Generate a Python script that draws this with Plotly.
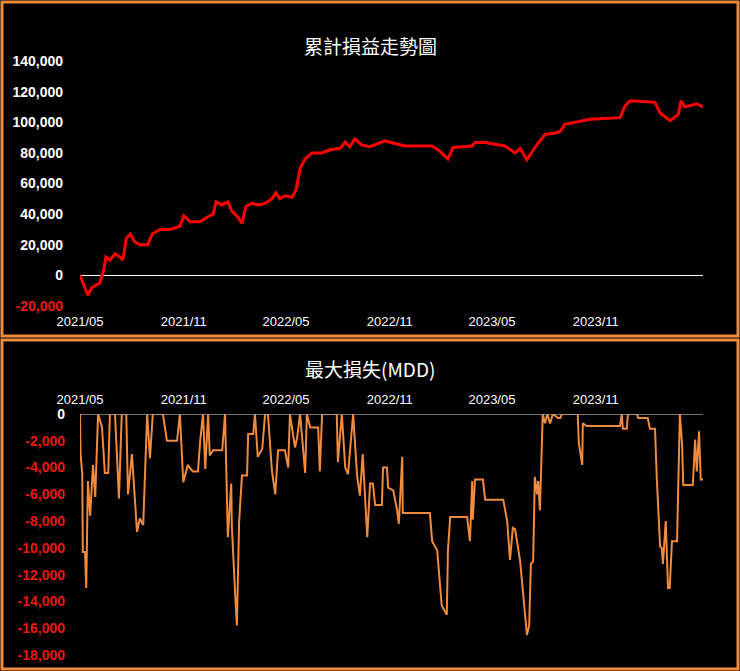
import plotly.graph_objects as go
import pandas as pd

START = "2021-05-01"
pnl_days = [0,9,14,21,30,35,41,46,53,62,71,76,82,89,97,106,120,128,142,159,
            177,184,195,213,225,236,241,252,262,269,280,287,294,305,315,328,340,347,354,363,
            376,383,390,399,411,429,443,461,470,478,487,500,514,540,576,624,638,652,661,695,
            700,718,753,771,780,792,806,824,842,851,859,877,904,957,966,975,1019,1028,1041,1046,
            1060,1065,1072,1093,1104]
pnl_vals = [0,-8000,-13000,-8000,-6000,-5000,2000,12000,10000,14000,
            12000,10000,24000,27000,22000,20000,20000,27000,30000,30000,
            32000,39000,35000,35000,38000,40000,48000,46000,48000,42000,
            38000,34000,45000,47000,46000,47000,50000,54000,50000,52000,
            51000,56000,70000,76000,80000,80000,82000,83000,87000,84000,
            89000,85000,84000,87800,84500,84500,81000,76000,83500,84500,
            86700,86700,84500,80000,82800,75400,83500,92000,93000,94000,
            98700,100000,102000,103000,110700,114000,113000,106000,102000,101000,
            105000,114000,110000,112000,110000]

mdd_pts = [(0,0),(1,-3000),(4,-4500),(5,-10300),(9,-10300),(11,-13000),(14,-5000),(18,-7600),
 (23,-3800),(27,-6200),(32,0),(39,-1000),(44,-4400),(50,-4400),(53,0),(62,0),(69,-6300),(74,0),
 (82,0),(85,-6000),(92,-3000),(101,-8800),(106,-7800),(112,-8300),(119,0),(124,-3300),(129,0),
 (147,0),(154,-2000),(172,-2000),(177,0),(183,-5100),(191,-3800),(200,-4300),(209,-4300),
 (213,-2000),(218,0),(222,-4100),(227,0),(230,-3100),(236,-2700),(252,-2700),(257,0),
 (262,-9200),(268,-5200),(269,-8300),(275,-13500),(278,-15800),(282,-8000),(287,-4600),
 (296,-4600),(298,-1500),(307,-1500),(310,0),(315,-3200),(323,-2600),(328,0),(333,0),
 (340,-4200),(346,-6000),(351,-2700),(363,-2700),(369,-4000),(372,0),(381,-2500),(385,-1700),
 (390,0),(399,-4400),(402,0),(408,-1000),(422,-1000),(425,-4300),(429,0),(455,0),(457,-3600),
 (464,0),(470,-4000),(475,-4500),(484,0),(491,-4600),(496,-6100),(501,-3000),(509,-9200),
 (514,-5200),(519,-5200),(523,-6800),(535,-6800),(537,-4000),(544,-4000),(546,-5500),
 (555,-5700),(562,-7200),(565,-8200),(571,-3200),(572,-7400),(620,-7400),(624,-9500),
 (633,-10200),(641,-14300),(650,-15000),(652,-10200),(656,-7700),(686,-7700),(688,-8500),
 (691,-9500),(695,-5000),(696,-7900),(700,-4900),(714,-4900),(718,-6400),(750,-6400),
 (757,-8000),(762,-10900),(767,-8500),(771,-8600),(780,-11000),(789,-15300),(792,-16500),
 (796,-15800),(799,-11200),(803,-11000),(804,-8400),(806,-4700),(810,-6000),(812,-5000),
 (815,-7200),(819,-2600),(820,0),(824,-700),(828,0),(833,-700),(838,0),(847,-300),(851,-300),
 (854,0),(882,0),(884,-2200),(890,-3800),(891,-700),(898,-900),(957,-900),(960,0),(962,-1100),
 (969,-1100),(971,0),(987,0),(989,-300),(1006,-300),(1010,-1100),(1019,-1100),(1022,-4700),
 (1028,-9900),(1031,-10000),(1033,-11200),(1038,-8000),(1042,-13000),(1045,-13000),
 (1049,-9500),(1058,-9500),(1060,-5600),(1063,0),(1067,-2300),(1069,-5300),(1086,-5300),
 (1090,-1900),(1093,-4300),(1097,-1300),(1100,-4900),(1104,-4900)]
mdd_days = [p[0] for p in mdd_pts]
mdd_vals = [p[1] for p in mdd_pts]

x_tickvals = ["2021-05-01","2021-11-01","2022-05-01","2022-11-01","2023-05-01","2023-11-01"]
x_ticktext = ["2021/05","2021/11","2022/05","2022/11","2023/05","2023/11"]
top_ticks = list(range(-20000, 140001, 20000))
bot_ticks = list(range(-18000, 1, 2000))

t0 = pd.Timestamp(START)
pnl_x = [t0 + pd.Timedelta(days=d) for d in pnl_days]
mdd_x = [t0 + pd.Timedelta(days=d) for d in mdd_days]
xr = [t0, t0 + pd.Timedelta(days=1104)]

def lab(v):
    s = f"{v:,}"
    return f"<span style='color:#e8190f'>{s}</span>" if v < 0 else s

W, H = 740, 671
fig = go.Figure()
fig.add_trace(go.Scatter(x=pnl_x, y=pnl_vals, mode="lines", line=dict(color="#ff0000", width=3),
                         xaxis="x", yaxis="y"))
fig.add_trace(go.Scatter(x=mdd_x, y=mdd_vals, mode="lines", line=dict(color="#f08a3c", width=2),
                         xaxis="x2", yaxis="y2"))
fnt = dict(family="Liberation Sans, Arial", color="white")
fig.update_layout(
    width=W, height=H, margin=dict(l=0, r=0, t=0, b=0, autoexpand=False),
    paper_bgcolor="black", plot_bgcolor="black", showlegend=False,
    xaxis=dict(domain=[80/W, 703/W], range=xr, tickvals=x_tickvals, ticktext=x_ticktext,
               showgrid=False, zeroline=False, tickfont=dict(size=13, **fnt), anchor="y",
               automargin=False, ticklabelstandoff=6),
    yaxis=dict(domain=[(H-306)/H, (H-61)/H], range=[-20000, 140000], tickvals=top_ticks,
               ticktext=[f"<b>{lab(v)}</b>" for v in top_ticks], showgrid=False,
               zeroline=True, zerolinecolor="white", zerolinewidth=1,
               tickfont=dict(size=14, **fnt), ticklabelstandoff=16, anchor="x", automargin=False),
    xaxis2=dict(domain=[80/W, 703/W], range=xr, tickvals=x_tickvals, ticktext=x_ticktext,
                side="top", showgrid=False, zeroline=False, tickfont=dict(size=13, **fnt),
                anchor="y2", ticklabelstandoff=6, automargin=False),
    yaxis2=dict(domain=[(H-655)/H, (H-414)/H], range=[-18000, 0], tickvals=bot_ticks,
                ticktext=[f"<b>{lab(v)}</b>" for v in bot_ticks], showgrid=False,
                zeroline=False, tickfont=dict(size=14, **fnt), ticklabelstandoff=14,
                anchor="x2", automargin=False),
    shapes=[
        dict(type="rect", xref="paper", yref="paper", x0=2/W, x1=738/W, y0=(H-336)/H, y1=(H-2)/H,
             line=dict(color="#f08a3c", width=3)),
        dict(type="rect", xref="paper", yref="paper", x0=2/W, x1=738/W, y0=2/H, y1=(H-340)/H,
             line=dict(color="#f08a3c", width=3)),
        dict(type="line", xref="x2 domain", yref="y2", x0=0, x1=1, y0=0, y1=0,
             line=dict(color="#999999", width=1.5)),
    ],
    annotations=[
        dict(text="累計損益走勢圖", x=0.5, y=(H-30)/H, xref="paper", yref="paper", showarrow=False,
             font=dict(family="Noto Sans CJK TC", size=19, color="white")),
        dict(text="最大損失(MDD)", x=0.5, y=(H-368)/H, xref="paper", yref="paper", showarrow=False,
             font=dict(family="Noto Sans CJK TC", size=19, color="white")),
    ],
)
fig.write_html("out.html", config={"displayModeBar": False},
               post_script="document.body.style.margin='0';document.body.style.background='black';")
